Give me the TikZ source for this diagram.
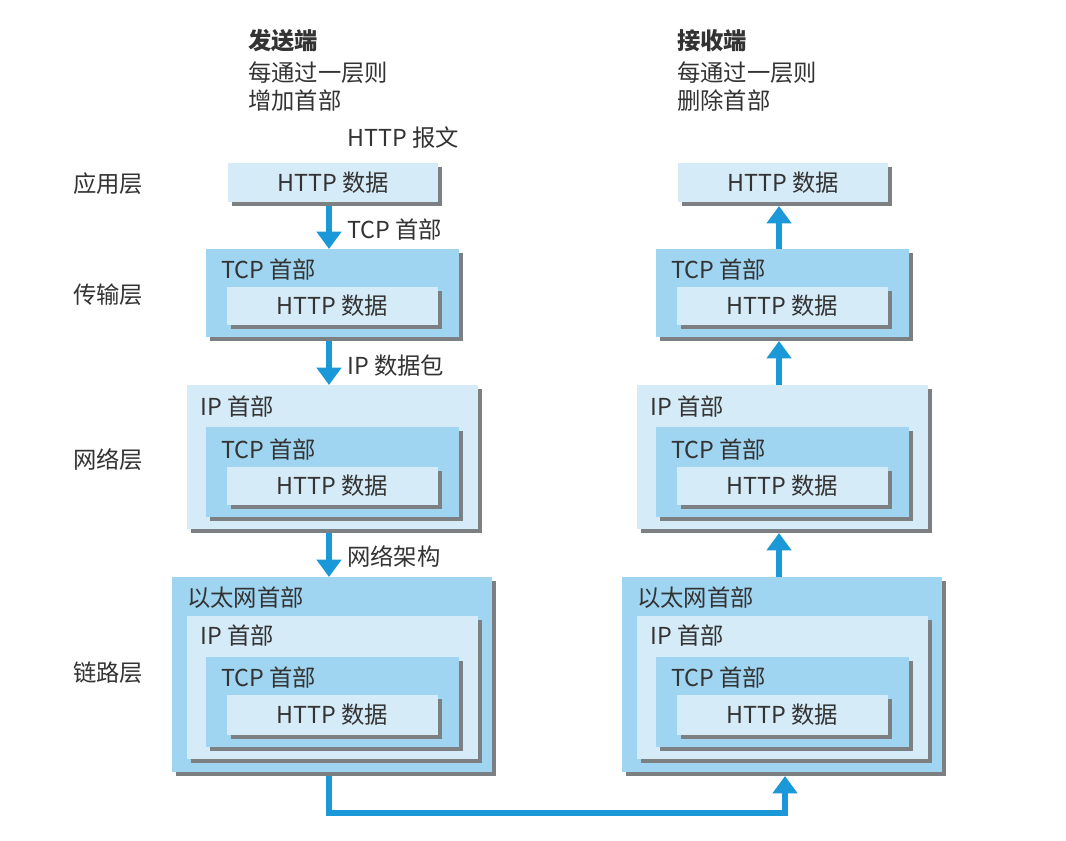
\documentclass[tikz,border=0pt]{standalone}
\usepackage{fontspec}
\setmainfont{Noto Sans CJK SC}
\usetikzlibrary{arrows.meta,fit,shadows,calc}
\definecolor{lightb}{HTML}{D5EBF7}
\definecolor{medb}{HTML}{A0D5F1}
\definecolor{arrowb}{HTML}{1B98D8}
\definecolor{shadowg}{HTML}{7D8083}
\definecolor{txt}{HTML}{333333}
\pgfdeclarelayer{paper}
\pgfdeclarelayer{background}
\pgfsetlayers{paper,background,main}
\begin{document}
\begin{tikzpicture}[x=0.75pt,y=-0.75pt,
  font=\fontsize{17.5}{21}\selectfont, text=txt,
  layer/.style={fill=#1, draw=none, inner sep=0pt, outer sep=0pt,
    drop shadow={shadow xshift=3pt, shadow yshift=-3pt, fill=shadowg, opacity=1}},
  lbl/.style={anchor=west, inner sep=0pt},
  ctr/.style={anchor=center, inner sep=0pt},
  arr/.style={draw=arrowb, line width=5pt, -{Triangle[width=18pt,length=13pt]}}]
\begin{pgfonlayer}{paper}
  \fill[white] (0,0) rectangle (1066,840);
\end{pgfonlayer}
\useasboundingbox (0,0) rectangle (1066,840);

% headers
\node[lbl, font=\fontsize{17.5}{21}\selectfont\bfseries] (sh1) at (248,41) {发送端};
\node[lbl] (sh2) at (248,73) {每通过一层则};
\node[lbl] (sh3) at (248,101) {增加首部};
\node[lbl] (msg) at (347,138) {HTTP 报文};
\node[lbl, font=\fontsize{17.5}{21}\selectfont\bfseries] (rh1) at (677,41) {接收端};
\node[lbl] (rh2) at (677,73) {每通过一层则};
\node[lbl] (rh3) at (677,101) {删除首部};

% layer names
\node[lbl] (l1) at (73,184) {应用层};
\node[lbl] (l2) at (73,295) {传输层};
\node[lbl] (l3) at (73,460) {网络层};
\node[lbl] (l4) at (73,673) {链路层};

% two stacks
\foreach \p/\dx in {s/0,r/450}{
  \begin{scope}[xshift=\dx*0.75pt]
    \node[layer=lightb, fit={(228,163)(438,202)}] (\p1) {};
    \node[ctr] (\p1x) at (\p1.center) {HTTP 数据};
    % transport
    \node[layer=medb, fit={(206,249)(459,337)}] (\p2) {};
    \node[lbl] (\p2tl) at (221,270) {TCP 首部};
    \node[layer=lightb, fit={(227,287)(438,325)}] (\p2h) {};
    \node[ctr] (\p2x) at (\p2h.center) {HTTP 数据};
    % network
    \node[layer=lightb, fit={(187,385)(478,529)}] (\p3) {};
    \node[lbl] (\p3il) at (200,407) {IP 首部};
    \node[layer=medb, fit={(206,427)(459,517)}] (\p3t) {};
    \node[lbl] (\p3tl) at (221,450) {TCP 首部};
    \node[layer=lightb, fit={(227,467)(438,505)}] (\p3h) {};
    \node[ctr] (\p3x) at (\p3h.center) {HTTP 数据};
    % link
    \node[layer=medb, fit={(172,577)(492,772)}] (\p4) {};
    \node[lbl] (\p4el) at (187,598) {以太网首部};
    \node[layer=lightb, fit={(187,616)(478,759)}] (\p4i) {};
    \node[lbl] (\p4il) at (200,636) {IP 首部};
    \node[layer=medb, fit={(206,657)(459,747)}] (\p4t) {};
    \node[lbl] (\p4tl) at (221,678) {TCP 首部};
    \node[layer=lightb, fit={(227,695)(438,735)}] (\p4h) {};
    \node[ctr] (\p4x) at (\p4h.center) {HTTP 数据};
  \end{scope}
}

% arrow labels
\node[lbl] (a1) at (347,230) {TCP 首部};
\node[lbl] (a2) at (347,366) {IP 数据包};
\node[lbl] (a3) at (347,556) {网络架构};

\coordinate (axL) at (329,0);
\coordinate (axR) at (779,0);
\coordinate (axB) at (785,0);
\coordinate (bot) at (0,813);

\begin{pgfonlayer}{background}
  \draw[arr] (s1.south -| axL) -- (s2.north -| axL);
  \draw[arr] (s2.south -| axL) -- (s3.north -| axL);
  \draw[arr] (s3.south -| axL) -- (s4.north -| axL);
  \draw[arr] (r2.north -| axR) -- ($(r1.south -| axR)+(0,4)$);
  \draw[arr] (r3.north -| axR) -- ($(r2.south -| axR)+(0,4)$);
  \draw[arr] (r4.north -| axR) -- ($(r3.south -| axR)+(0,4)$);
  \draw[arr] (s4.south -| axL) -- (axL |- bot) -- (axB |- bot) -- ($(r4.south -| axB)+(0,4)$);
\end{pgfonlayer}
\end{tikzpicture}
\end{document}
